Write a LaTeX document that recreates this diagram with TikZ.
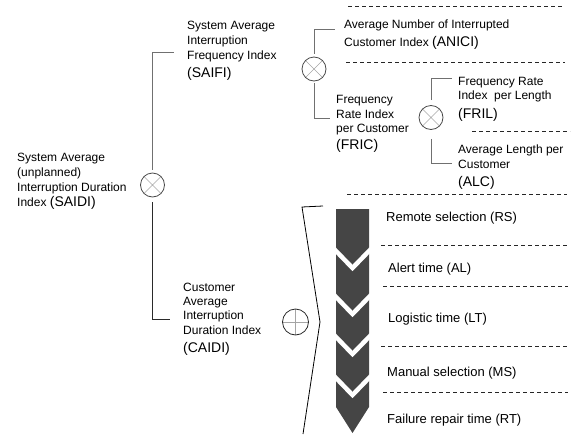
\documentclass[tikz,border=0pt]{standalone}
\usepackage{fontspec}
\setmainfont{Liberation Sans}
\definecolor{cline}{HTML}{707070}
\definecolor{cdark}{HTML}{2A2A2A}
\definecolor{ccirc}{HTML}{4A4A4A}
\definecolor{ccross}{HTML}{A5A5A5}
\definecolor{chev}{HTML}{454545}
\newcommand{\abbr}[1]{{\fontsize{14}{15}\selectfont #1}}
\begin{document}
\begin{tikzpicture}[x=1pt,y=-1pt,
  lbl/.style={anchor=base west, inner sep=0pt, font=\fontsize{12}{15}\selectfont, text=black},
  rlbl/.style={anchor=base west, inner sep=0pt, font=\fontsize{13}{15}\selectfont, text=black},
  conn/.style={draw=cline, line width=0.8pt},
  conndark/.style={draw=cdark, line width=0.8pt},
  dline/.style={draw=black!85, line width=0.7pt, dash pattern=on 4pt off 3pt},
  otimesnode/.style={circle, draw=ccirc, line width=0.8pt, minimum size=24pt, inner sep=0pt,
    path picture={\draw[ccross, line width=0.6pt]
      (path picture bounding box.north west) -- (path picture bounding box.south east)
      (path picture bounding box.north east) -- (path picture bounding box.south west);}},
  oplusnode/.style={circle, draw=cdark, line width=0.8pt, minimum size=26pt, inner sep=0pt,
    path picture={\draw[ccross, line width=0.6pt]
      (path picture bounding box.north) -- (path picture bounding box.south)
      (path picture bounding box.west) -- (path picture bounding box.east);}},
  whitev/.style={draw=white, line width=4.5pt, miter limit=10}
]
\useasboundingbox (0,0) rectangle (573,434);

% dashed separators
\draw[dline] (348,6) -- (562,6);
\draw[dline] (346,62.5) -- (565,62.5);
\draw[dline] (472,131) -- (570,131);
\draw[dline] (347,194) -- (567,194);
\draw[dline] (381,245) -- (568,245);
\draw[dline] (383,286) -- (568,286);
\draw[dline] (381,346) -- (568,346);
\draw[dline] (383,392) -- (568,392);

% operator circles
\node[otimesnode] (xsaidi) at (152.5,185) {};
\node[otimesnode] (xsaifi) at (314,69) {};
\node[otimesnode] (xfric) at (431,117.5) {};
\node[oplusnode] (pcaidi) at (295.5,322) {};

% connector ends
\coordinate (esaifi) at (174,52);
\coordinate (ecaidi) at (169.5,319);
\coordinate (eanici) at (335,29);
\coordinate (efric) at (330,118);
\coordinate (efril) at (452,78);
\coordinate (ealc) at (452,163);

\draw[conn, shorten <=3pt] (xsaidi.north) |- (esaifi);
\draw[conndark, shorten <=5pt] (xsaidi.south) |- (ecaidi);
\draw[conn, shorten <=3pt] (xsaifi.north) |- (eanici);
\draw[conn, shorten <=2pt] (xsaifi.south) |- (efric);
\draw[conn, shorten <=5pt] (xfric.north) |- (efril);
\draw[conn, shorten <=9pt] (xfric.south) |- (ealc);

% bracket
\draw[black, line width=0.8pt] (323,206) -- (302,207) -- (320,322) -- (303,434);

% chevron column
\fill[chev] (336,209) -- (369,209) -- (369,407) -- (352.5,433) -- (336,407) -- cycle;
\draw[whitev] (334,248.9) -- (352.5,268) -- (371,248.9);
\draw[whitev] (334,294.9) -- (352.5,314) -- (371,294.9);
\draw[whitev] (334,334.9) -- (352.5,354) -- (371,334.9);
\draw[whitev] (334,375.9) -- (352.5,395) -- (371,375.9);

% SAIFI
\node[lbl] (saifi1) at (187,29) {System Average};
\node[lbl] (saifi2) at (187,44) {Interruption};
\node[lbl] (saifi3) at (187,59) {Frequency Index};
\node[lbl] (saifi4) at (187,77) {\abbr{(SAIFI)}};
% SAIDI
\node[lbl] (saidi1) at (17,161) {System Average};
\node[lbl] (saidi2) at (17,176) {(unplanned)};
\node[lbl] (saidi3) at (17,191) {Interruption Duration};
\node[lbl] (saidi4) at (17,206) {Index \abbr{(SAIDI)}};
% CAIDI
\node[lbl] (caidi1) at (183,291) {Customer};
\node[lbl] (caidi2) at (183,305) {Average};
\node[lbl] (caidi3) at (183,319) {Interruption};
\node[lbl] (caidi4) at (183,334) {Duration Index};
\node[lbl] (caidi5) at (183,352) {\abbr{(CAIDI)}};
% ANICI
\node[lbl] (anici1) at (344,28.5) {Average Number of Interrupted};
\node[lbl] (anici2) at (344,46.5) {Customer Index \abbr{(ANICI)}};
% FRIC
\node[lbl] (fric1) at (336,103) {Frequency};
\node[lbl] (fric2) at (336,118) {Rate Index};
\node[lbl] (fric3) at (336,132.5) {per Customer};
\node[lbl] (fric4) at (336,149) {\abbr{(FRIC)}};
% FRIL
\node[lbl] (fril1) at (458,85) {Frequency Rate};
\node[lbl] (fril2) at (458,99.5) {Index\ \ per Length};
\node[lbl] (fril3) at (458,118) {\abbr{(FRIL)}};
% ALC
\node[lbl] (alc1) at (458,153) {Average Length per};
\node[lbl] (alc2) at (458,168) {Customer};
\node[lbl] (alc3) at (458,186) {\abbr{(ALC)}};
% time components
\node[rlbl] (rs) at (386,221.5) {Remote selection (RS)};
\node[rlbl] (al) at (388,272.5) {Alert time (AL)};
\node[rlbl] (lt) at (388,322.5) {Logistic time (LT)};
\node[rlbl] (ms) at (387,376.5) {Manual selection (MS)};
\node[rlbl] (rt) at (387,423.5) {Failure repair time (RT)};
\end{tikzpicture}
\end{document}
